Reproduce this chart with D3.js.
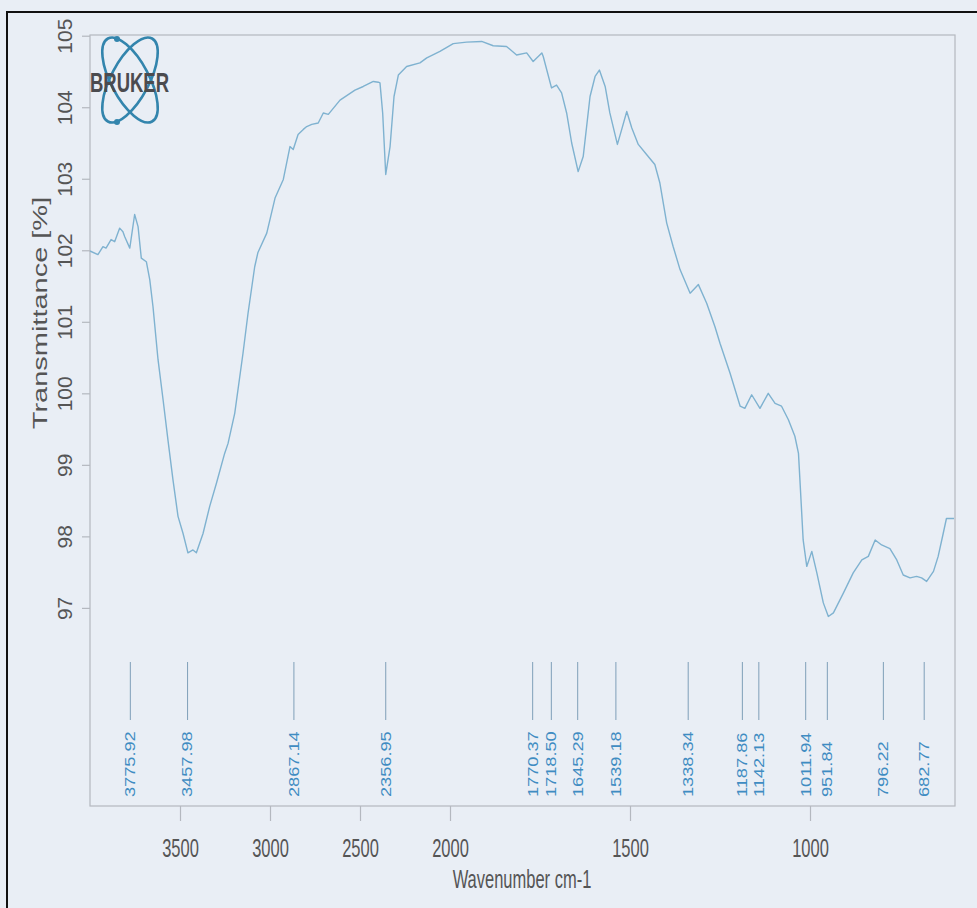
<!DOCTYPE html>
<html>
<head>
<meta charset="utf-8">
<script src="https://cdn.jsdelivr.net/npm/d3@7"></script>
<style>
  html, body { margin: 0; padding: 0; background: #e9eef5; }
  svg { display: block; }
  text { font-family: "Liberation Sans", Arial, sans-serif; }
</style>
</head>
<body>
<svg id="chart" width="977" height="908"></svg>
<script>
// IR spectrum: wavenumber (cm-1) vs transmittance (%)
const wavenumbers = [
  4000, 3956, 3928, 3911, 3883, 3863, 3835, 3817, 3807, 3779,
  3752, 3733, 3715, 3687, 3668, 3650, 3622, 3594, 3567, 3539,
  3511, 3483, 3456, 3428, 3409, 3372, 3335, 3298, 3252, 3233,
  3196, 3150, 3122, 3085, 3067, 3018, 2972, 2926, 2889, 2871,
  2844, 2815, 2796, 2768, 2732, 2704, 2676, 2611, 2528, 2482,
  2426, 2398, 2389, 2374, 2357, 2333, 2311, 2287, 2241, 2167,
  2129, 2056, 1991, 1954, 1912, 1880, 1843, 1815, 1787, 1769,
  1745, 1741, 1718, 1704, 1690, 1676, 1662, 1644, 1630, 1611,
  1597, 1585, 1569, 1556, 1535, 1523, 1509, 1495, 1477, 1454,
  1431, 1417, 1398, 1380, 1361, 1333, 1310, 1287, 1264, 1250,
  1222, 1194, 1181, 1162, 1139, 1116, 1097, 1079, 1060, 1042,
  1032, 1028, 1019, 1009, 995, 981, 963, 949, 935, 907,
  880, 856, 838, 819, 801, 778, 759, 741, 722, 704,
  690, 676, 657, 644, 630, 621, 600
];
const transmittance = [
  101.99, 101.94, 102.05, 102.03, 102.15, 102.12, 102.31, 102.26, 102.19, 102.03,
  102.50, 102.33, 101.89, 101.84, 101.59, 101.21, 100.47, 99.91, 99.35, 98.79,
  98.28, 98.04, 97.77, 97.81, 97.77, 98.04, 98.42, 98.74, 99.16, 99.30,
  99.72, 100.56, 101.12, 101.77, 101.97, 102.24, 102.73, 102.99, 103.45, 103.41,
  103.62, 103.69, 103.73, 103.76, 103.78, 103.92, 103.90, 104.10, 104.24, 104.29,
  104.36, 104.35, 104.34, 103.92, 103.06, 103.45, 104.15, 104.45, 104.57, 104.62,
  104.69, 104.78, 104.89, 104.91, 104.92, 104.86, 104.85, 104.73, 104.76, 104.64,
  104.76, 104.71, 104.27, 104.31, 104.20, 103.92, 103.50, 103.10, 103.31, 104.15,
  104.43, 104.52, 104.29, 103.92, 103.48, 103.69, 103.94, 103.71, 103.48, 103.34,
  103.20, 102.94, 102.38, 102.05, 101.73, 101.40, 101.52, 101.26, 100.93, 100.70,
  100.28, 99.82, 99.79, 99.98, 99.79, 100.00, 99.86, 99.82, 99.63, 99.40,
  99.16, 98.79, 97.95, 97.58, 97.79, 97.49, 97.07, 96.88, 96.93, 97.21,
  97.49, 97.67, 97.72, 97.95, 97.88, 97.83, 97.67, 97.46, 97.42, 97.44,
  97.42, 97.37, 97.51, 97.72, 98.04, 98.25, 98.25
];
// Picked peak positions (cm-1)
const peakPositions = [3775.92, 3457.98, 2867.14, 2356.95, 1770.37, 1718.50, 1645.29,
  1539.18, 1338.34, 1187.86, 1142.13, 1011.94, 951.84, 796.22, 682.77];
// Axis ticks
const xTicks = [3500, 3000, 2500, 2000, 1500, 1000];
const yTicks = [97, 98, 99, 100, 101, 102, 103, 104, 105];

const svg = d3.select("#chart");
const plot = { left: 90, right: 955, top: 35, bottom: 806 };

// Wavenumber axis is expanded two-fold below 2000 cm-1
const x = d3.scaleLinear()
  .domain([4000, 2000, 600])
  .range([plot.left, 450, 954]);
const y = d3.scaleLinear()
  .domain([94.23, 105.01])
  .range([plot.bottom, plot.top]);

// page border
svg.append("line").attr("x1", 7).attr("x2", 7).attr("y1", 11).attr("y2", 908)
  .attr("stroke", "#111").attr("stroke-width", 2);
svg.append("line").attr("x1", 6).attr("x2", 977).attr("y1", 12).attr("y2", 12)
  .attr("stroke", "#111").attr("stroke-width", 2);

// plot frame
svg.append("rect")
  .attr("x", plot.left).attr("y", plot.top)
  .attr("width", plot.right - plot.left).attr("height", plot.bottom - plot.top)
  .attr("fill", "none").attr("stroke", "#b4b8bf").attr("stroke-width", 1.2);

// x axis
const gx = svg.append("g")
  .attr("transform", `translate(0,${plot.bottom})`)
  .call(d3.axisBottom(x).tickValues(xTicks).tickSize(15).tickFormat(d3.format("d")));
gx.select(".domain").remove();
gx.selectAll(".tick line").attr("stroke", "#b4b8bf").attr("stroke-width", 1.2);
gx.selectAll(".tick text")
  .attr("y", 0).attr("dy", 0)
  .attr("transform", "translate(0,51) scale(0.66,1)")
  .attr("font-size", 25).attr("fill", "#555");

// y axis
const gy = svg.append("g")
  .attr("transform", `translate(${plot.left},0)`)
  .call(d3.axisLeft(y).tickValues(yTicks).tickSize(8));
gy.select(".domain").remove();
gy.selectAll(".tick line").attr("stroke", "#b4b8bf").attr("stroke-width", 1.2);
gy.selectAll(".tick text")
  .attr("x", 0).attr("dy", 0)
  .attr("text-anchor", "middle")
  .attr("transform", "translate(-18,0) rotate(-90)")
  .attr("font-size", 21).attr("fill", "#555");

// axis titles
svg.append("text")
  .attr("transform", "translate(522,888) scale(0.66,1)")
  .attr("text-anchor", "middle").attr("font-size", 25).attr("fill", "#555")
  .text("Wavenumber cm-1");
svg.append("text")
  .attr("transform", "translate(47,313) rotate(-90) scale(1.38,1)")
  .attr("text-anchor", "middle").attr("font-size", 21).attr("fill", "#555")
  .text("Transmittance [%]");

// spectrum
const series = wavenumbers.map((w, i) => ({ w, t: transmittance[i] }));
svg.append("path")
  .datum(series)
  .attr("fill", "none")
  .attr("stroke", "#7fb2d0")
  .attr("stroke-width", 1.4)
  .attr("stroke-linejoin", "round")
  .attr("d", d3.line().x(d => x(d.w)).y(d => y(d.t)));

// peak markers with labels
const peaks = svg.append("g").selectAll("g").data(peakPositions).join("g")
  .attr("transform", d => `translate(${x(d)},0)`);
peaks.append("line")
  .attr("y1", 662).attr("y2", 720)
  .attr("stroke", "#7f9fb8").attr("stroke-width", 1);
peaks.append("text")
  .attr("transform", "translate(0,797) rotate(-90) scale(1.3,1)")
  .attr("dy", "0.35em")
  .attr("font-size", 14).attr("fill", "#3f8cc2")
  .text(d => d.toFixed(2));

// instrument logo
const logo = svg.append("g").attr("transform", "translate(130,80)");
[62, -62].forEach(a => {
  logo.append("ellipse")
    .attr("rx", 47).attr("ry", 19)
    .attr("transform", `rotate(${a})`)
    .attr("fill", "none").attr("stroke", "#3385ad").attr("stroke-width", 2.6);
});
logo.append("circle").attr("cx", -13).attr("cy", -41).attr("r", 3).attr("fill", "#3385ad");
logo.append("circle").attr("cx", -13).attr("cy", 42).attr("r", 3).attr("fill", "#3385ad");
logo.append("text")
  .attr("transform", "translate(-40,12) scale(0.66,1)")
  .attr("font-size", 28).attr("font-weight", "bold").attr("fill", "#4b4b4f")
  .text("BRUKER");
</script>
</body>
</html>
